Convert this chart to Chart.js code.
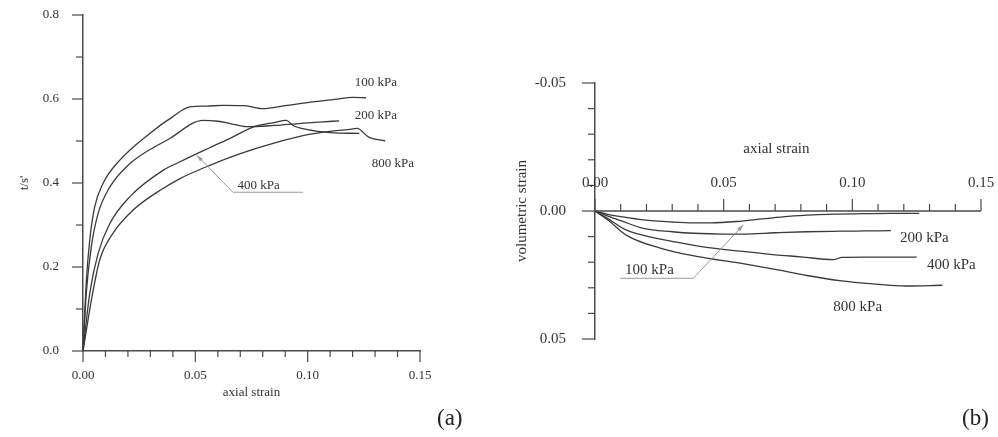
<!DOCTYPE html>
<html>
<head>
<meta charset="utf-8">
<script src="https://cdn.jsdelivr.net/npm/chart.js@4.4.1/dist/chart.umd.min.js"></script>
<style>
body{margin:0;background:#fff;width:998px;height:437px;overflow:hidden;position:relative;font-family:"Liberation Serif","Times New Roman",serif}
#boxA{position:absolute;left:0;top:0;width:450px;height:437px}
#boxB{position:absolute;left:460px;top:0;width:538px;height:437px}
.tag{position:absolute;top:405px;font-size:23px;color:#222}
</style>
</head>
<body>
<div id="boxA"><canvas id="chartA"></canvas></div>
<div id="boxB"><canvas id="chartB"></canvas></div>
<div class="tag" style="left:437px">(a)</div>
<div class="tag" style="left:962px">(b)</div>
<script>
// (a) stress ratio t/s' vs axial strain
var strainA100 = [0, 0.0015, 0.003, 0.0052, 0.0089, 0.0163, 0.0297, 0.040, 0.0475, 0.055, 0.0623, 0.072, 0.080, 0.090, 0.102, 0.112, 0.120, 0.126];
var ratioA100  = [0, 0.168, 0.264, 0.343, 0.399, 0.454, 0.518, 0.558, 0.581, 0.583, 0.585, 0.584, 0.577, 0.584, 0.593, 0.599, 0.604, 0.603];
var strainA200 = [0, 0.0015, 0.0037, 0.0067, 0.0119, 0.0208, 0.0386, 0.0534, 0.060, 0.066, 0.0727, 0.085, 0.095, 0.105, 0.114];
var ratioA200  = [0, 0.140, 0.248, 0.327, 0.390, 0.446, 0.506, 0.549, 0.547, 0.541, 0.534, 0.537, 0.541, 0.545, 0.548];
var strainA400 = [0, 0.003, 0.0067, 0.0119, 0.0208, 0.0356, 0.043, 0.0564, 0.0657, 0.0757, 0.085, 0.0905, 0.0935, 0.100, 0.110, 0.123];
var ratioA400  = [0, 0.137, 0.232, 0.303, 0.367, 0.430, 0.450, 0.484, 0.507, 0.533, 0.544, 0.549, 0.537, 0.527, 0.520, 0.518];
var strainA800 = [0, 0.0037, 0.0074, 0.0133, 0.0222, 0.0356, 0.043, 0.0564, 0.070, 0.085, 0.100, 0.110, 0.118, 0.122, 0.127, 0.1345];
var ratioA800  = [0, 0.120, 0.216, 0.280, 0.335, 0.387, 0.410, 0.442, 0.470, 0.495, 0.515, 0.523, 0.527, 0.530, 0.510, 0.500];

// (b) volumetric strain vs axial strain
var strainB100 = [0, 0.005, 0.010, 0.0188, 0.030, 0.038, 0.045, 0.055, 0.065, 0.075, 0.085, 0.095, 0.105, 0.115, 0.126];
var volB100    = [0, 0.0013, 0.0022, 0.0035, 0.0043, 0.0046, 0.0046, 0.0041, 0.0031, 0.0021, 0.0015, 0.0012, 0.0010, 0.0009, 0.0009];
var strainB200 = [0, 0.005, 0.010, 0.0188, 0.030, 0.0382, 0.050, 0.0576, 0.070, 0.082, 0.095, 0.105, 0.115];
var volB200    = [0, 0.0020, 0.0038, 0.0068, 0.0081, 0.0087, 0.0090, 0.0090, 0.0085, 0.0081, 0.0079, 0.0078, 0.0077];
var strainB400 = [0, 0.005, 0.0123, 0.020, 0.0318, 0.042, 0.0564, 0.070, 0.080, 0.0926, 0.096, 0.105, 0.115, 0.125];
var volB400    = [0, 0.0030, 0.0075, 0.0098, 0.0122, 0.0140, 0.0157, 0.0171, 0.0179, 0.0190, 0.0181, 0.0180, 0.0180, 0.0180];
var strainB800 = [0, 0.005, 0.0123, 0.0253, 0.040, 0.0564, 0.070, 0.0823, 0.095, 0.108, 0.121, 0.135];
var volB800    = [0, 0.0035, 0.0095, 0.0145, 0.0178, 0.0204, 0.0228, 0.0252, 0.0272, 0.0285, 0.0293, 0.0290];

// curve labels: text, axial strain, value
var labelsA = [['100 kPa', 0.121, 0.640], ['200 kPa', 0.121, 0.561], ['800 kPa', 0.1285, 0.447], ['400 kPa', 0.0688, 0.395]];
var leaderA = [[0.0507, 0.466], [0.0667, 0.378], [0.098, 0.378]];
var labelsB = [['200 kPa', 0.1185, 0.0105], ['400 kPa', 0.129, 0.0211], ['800 kPa', 0.0926, 0.0374], ['100 kPa', 0.0117, 0.0230]];
var leaderB = [[0.0576, 0.0055], [0.0382, 0.0263], [0.0097, 0.0263]];

var serif = '"Liberation Serif", "Times New Roman", serif';
var ink = '#333';
var axisInk = '#4a4a4a';
var lineInk = '#3a3a3a';

function pts(xs, ys) {
  return xs.map(function (x, i) { return {x: x, y: ys[i]}; });
}
function isMajor(v, step) {
  return Math.abs(v / step - Math.round(v / step)) < 1e-6;
}
function fmt(v, step, dec) {
  if (!isMajor(v, step)) return '';
  if (Math.abs(v) < 1e-9) return (0).toFixed(dec);
  return v.toFixed(dec);
}
function curve(xs, ys) {
  return {data: pts(xs, ys), borderColor: lineInk, borderWidth: 1.3, pointRadius: 0,
    fill: false, cubicInterpolationMode: 'monotone'};
}

function drawTicks(ctx, scale, side, edge, step, majorLen, minorLen) {
  ctx.save();
  ctx.strokeStyle = axisInk;
  ctx.lineWidth = 1.2;
  scale.ticks.forEach(function (t) {
    var p = scale.getPixelForValue(t.value);
    var len = isMajor(t.value, step) ? majorLen : minorLen;
    ctx.beginPath();
    if (side == 'left') { ctx.moveTo(edge, p); ctx.lineTo(edge - len, p); }
    else if (side == 'down') { ctx.moveTo(p, edge); ctx.lineTo(p, edge + len); }
    else { ctx.moveTo(p, edge); ctx.lineTo(p, edge - len); }
    ctx.stroke();
  });
  ctx.restore();
}

function drawNotes(chart, labels, leader, size) {
  var ctx = chart.ctx, xs = chart.scales.x, ys = chart.scales.y;
  ctx.save();
  ctx.fillStyle = ink;
  ctx.font = size + 'px ' + serif;
  ctx.textBaseline = 'middle';
  ctx.textAlign = 'left';
  labels.forEach(function (l) {
    ctx.fillText(l[0], xs.getPixelForValue(l[1]), ys.getPixelForValue(l[2]));
  });
  // leader line with a small arrow at the curve
  ctx.strokeStyle = '#9a9a9a';
  ctx.fillStyle = '#9a9a9a';
  ctx.lineWidth = 1;
  var p = leader.map(function (q) { return [xs.getPixelForValue(q[0]), ys.getPixelForValue(q[1])]; });
  ctx.beginPath();
  ctx.moveTo(p[0][0], p[0][1]);
  for (var i = 1; i < p.length; i++) ctx.lineTo(p[i][0], p[i][1]);
  ctx.stroke();
  var a = Math.atan2(p[0][1] - p[1][1], p[0][0] - p[1][0]);
  ctx.beginPath();
  ctx.moveTo(p[0][0], p[0][1]);
  ctx.lineTo(p[0][0] - 7 * Math.cos(a - 0.3), p[0][1] - 7 * Math.sin(a - 0.3));
  ctx.lineTo(p[0][0] - 7 * Math.cos(a + 0.3), p[0][1] - 7 * Math.sin(a + 0.3));
  ctx.closePath();
  ctx.fill();
  ctx.restore();
}

var chartA = new Chart(document.getElementById('chartA'), {
  type: 'line',
  data: {datasets: [curve(strainA100, ratioA100), curve(strainA200, ratioA200), curve(strainA400, ratioA400), curve(strainA800, ratioA800)]},
  options: {
    animation: false, responsive: true, maintainAspectRatio: false,
    layout: {padding: {top: 15, right: 30, left: 0, bottom: 0}},
    plugins: {legend: {display: false}, tooltip: {enabled: false}},
    scales: {
      x: {
        type: 'linear', min: 0, max: 0.15,
        grid: {display: false},
        border: {display: true, color: axisInk, width: 1.5},
        ticks: {stepSize: 0.01, maxTicksLimit: 100, autoSkip: false, maxRotation: 0, padding: 9, color: ink,
          font: {family: serif, size: 13}, callback: function (v) { return fmt(v, 0.05, 2); }},
        title: {display: true, text: 'axial strain', color: ink, font: {family: serif, size: 13}, padding: {top: 0, bottom: 37}},
        afterFit: function (s) { s.height = 86; }
      },
      y: {
        min: 0, max: 0.8,
        grid: {display: false},
        border: {display: true, color: axisInk, width: 1.5},
        ticks: {stepSize: 0.1, maxTicksLimit: 100, autoSkip: false, padding: 16, color: ink,
          font: {family: serif, size: 13}, callback: function (v) { return fmt(v, 0.2, 1); }},
        title: {display: true, text: "t/s'", color: ink, font: {family: serif, size: 13}, padding: {top: 17, bottom: 0}},
        afterFit: function (s) { s.width = 83; s.paddingTop = 0; s.paddingBottom = 0; }
      }
    }
  },
  plugins: [{
    id: 'marksA',
    afterDraw: function (chart) {
      var a = chart.chartArea;
      drawTicks(chart.ctx, chart.scales.x, 'down', a.bottom, 0.05, 11, 6);
      drawTicks(chart.ctx, chart.scales.y, 'left', a.left, 0.2, 11, 7);
      drawNotes(chart, labelsA, leaderA, 13);
    }
  }]
});

var chartB = new Chart(document.getElementById('chartB'), {
  type: 'line',
  data: {datasets: [curve(strainB100, volB100), curve(strainB200, volB200), curve(strainB400, volB400), curve(strainB800, volB800)]},
  options: {
    animation: false, responsive: true, maintainAspectRatio: false,
    layout: {padding: {top: 83, right: 17, left: 0, bottom: 98}},
    plugins: {legend: {display: false}, tooltip: {enabled: false}},
    scales: {
      x: {
        type: 'linear', min: 0, max: 0.15, display: false,
        ticks: {stepSize: 0.01, maxTicksLimit: 100, autoSkip: false}
      },
      y: {
        min: -0.05, max: 0.05, reverse: true,
        grid: {display: false},
        border: {display: true, color: axisInk, width: 1.5},
        ticks: {stepSize: 0.01, maxTicksLimit: 100, autoSkip: false, padding: 21, color: ink,
          font: {family: serif, size: 15}, callback: function (v) { return fmt(v, 0.05, 2); }},
        title: {display: true, text: 'volumetric strain', color: ink, font: {family: serif, size: 15}, padding: {top: 53, bottom: 0}},
        afterFit: function (s) { s.width = 135; s.paddingTop = 0; s.paddingBottom = 0; }
      }
    }
  },
  plugins: [{
    id: 'marksB',
    afterDraw: function (chart) {
      var ctx = chart.ctx, xs = chart.scales.x, ys = chart.scales.y;
      var y0 = ys.getPixelForValue(0);
      // x axis crosses at zero volumetric strain, ticks and labels above it
      ctx.save();
      ctx.strokeStyle = axisInk;
      ctx.lineWidth = 1.5;
      ctx.beginPath();
      ctx.moveTo(xs.left, y0);
      ctx.lineTo(xs.right, y0);
      ctx.stroke();
      ctx.restore();
      drawTicks(ctx, xs, 'up', y0, 0.05, 12, 7);
      drawTicks(ctx, ys, 'left', chart.chartArea.left, 0.05, 13, 7);
      ctx.save();
      ctx.fillStyle = ink;
      ctx.font = '15px ' + serif;
      ctx.textAlign = 'center';
      ctx.textBaseline = 'middle';
      xs.ticks.forEach(function (t) {
        var s = fmt(t.value, 0.05, 2);
        if (s) ctx.fillText(s, xs.getPixelForValue(t.value), y0 - 28);
      });
      ctx.fillText('axial strain', xs.getPixelForValue(0.0705), y0 - 62);
      ctx.restore();
      drawNotes(chart, labelsB, leaderB, 15);
    }
  }]
});
</script>
</body>
</html>
